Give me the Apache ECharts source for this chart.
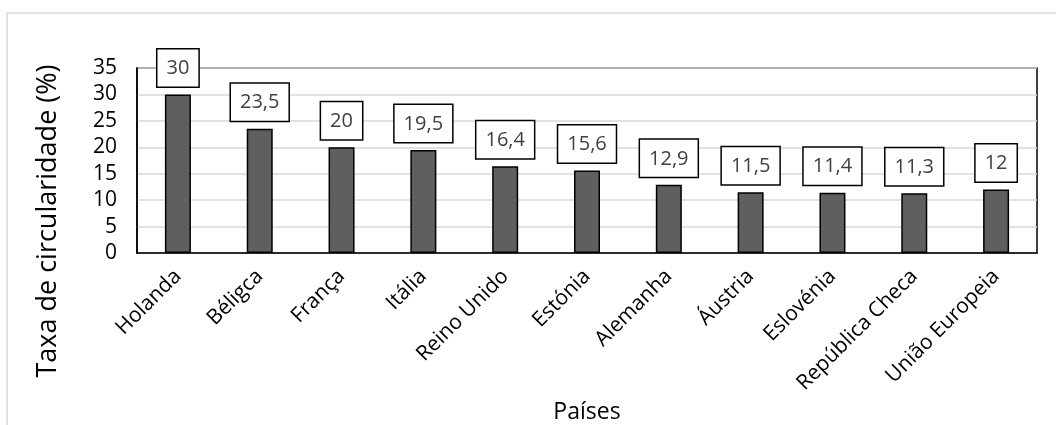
<!DOCTYPE html>
<html>
<head>
<meta charset="utf-8">
<script src="https://cdn.jsdelivr.net/npm/echarts@6/dist/echarts.min.js"></script>
<style>
html,body{margin:0;padding:0;background:#fff;}
#chart{width:1056px;height:425px;}
</style>
</head>
<body>
<div id="chart"></div>
<script>
const categories = ['Holanda','Béligca','França','Itália','Reino Unido','Estónia','Alemanha','Áustria','Eslovénia','República Checa','União Europeia'];
const values = [30, 23.5, 20, 19.5, 16.4, 15.6, 12.9, 11.5, 11.4, 11.3, 12];
const yTitle = 'Taxa de circularidade (%)';
const xTitle = 'Países';

const chart = echarts.init(document.getElementById('chart'), null, {renderer:'canvas'});
chart.setOption({
  animation: false,
  backgroundColor: '#fff',
  graphic: [
    {type:'rect', shape:{x:7, y:13, width:1070, height:430}, style:{fill:'none', stroke:'#d9d9d9', lineWidth:1.5}, silent:true, z:-10},
    {type:'text', x:48, y:221, rotation:Math.PI/2,
      style:{text:yTitle, font:'27px "Open Sans"', fill:'#000', align:'center', verticalAlign:'middle'}}
  ],
  grid: {left:137, right:19, top:68, bottom:172, show:true, borderColor:'#000', borderWidth:1.5, backgroundColor:'transparent'},
  xAxis: {
    type:'category', data:categories,
    name:xTitle, nameLocation:'middle', nameGap:148,
    nameTextStyle:{fontFamily:'Open Sans', fontSize:23, color:'#000'},
    axisLine:{show:true, lineStyle:{color:'#000', width:1.5}},
    axisTick:{show:false},
    axisLabel:{rotate:45, fontFamily:'Open Sans', fontSize:21, color:'#000', margin:20, interval:0}
  },
  yAxis: {
    type:'value', min:0, max:35, interval:5,
    axisLine:{show:true, lineStyle:{color:'#000', width:1.5}},
    axisTick:{show:false},
    axisLabel:{fontFamily:'Open Sans', fontSize:21, color:'#000', margin:20},
    splitLine:{lineStyle:{color:'#d9d9d9', width:1.5}}
  },
  series: [{
    type:'bar', data:values, barWidth:26,
    itemStyle:{color:'#5f5f5f', borderColor:'#000', borderWidth:1.5},
    label:{show:true, position:'top', distance:8,
      formatter: p => String(p.value).replace('.', ','),
      fontFamily:'Open Sans', fontSize:20, color:'#404040',
      backgroundColor:'#fff', borderColor:'#000', borderWidth:1.5,
      padding:[9,9,8,9]}
  }]
});
</script>
</body>
</html>
